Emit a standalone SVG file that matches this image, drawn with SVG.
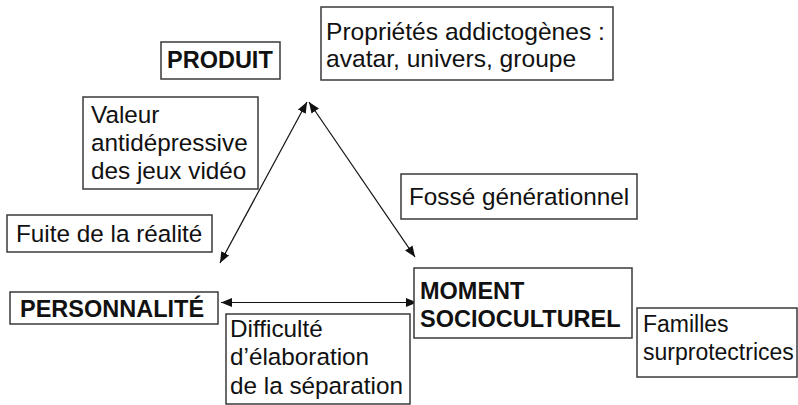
<svg xmlns="http://www.w3.org/2000/svg" width="798" height="405" viewBox="0 0 798 405">
  <style>
    .box { fill: #ffffff; stroke: #3a3a3a; stroke-width: 1.5; }
    .txt { font-family: "Liberation Sans", Arial, Helvetica, sans-serif; font-size: 24.3px; fill: #111; }
    .bold { font-weight: bold; font-size: 23.5px; }
    .link { stroke: #111; stroke-width: 1.2; fill: none; marker-start: url(#head); marker-end: url(#head); }
  </style>
  <defs>
    <marker id="head" viewBox="0 0 11 9" refX="11" refY="4.5" markerWidth="11" markerHeight="9" markerUnits="userSpaceOnUse" orient="auto-start-reverse">
      <path d="M0,0 L11,4.5 L0,9 z" fill="#111"/>
    </marker>
  </defs>
  <rect width="798" height="405" fill="#ffffff"/>

  <!-- connectors -->
  <g id="connectors">
    <line class="link" x1="307" y1="102" x2="220" y2="263"/>
    <line class="link" x1="309" y1="102" x2="415" y2="257"/>
    <line class="link" x1="221" y1="302.5" x2="417" y2="302.5"/>
  </g>

  <!-- main nodes -->
  <g id="produit">
    <rect class="box" x="161" y="42" width="119" height="37"/>
    <text class="txt bold" x="167" y="68">PRODUIT</text>
  </g>
  <g id="personnalite">
    <rect class="box" x="10" y="292" width="208" height="32"/>
    <text class="txt bold" x="20" y="317">PERSONNALITÉ</text>
  </g>
  <g id="moment">
    <rect class="box" x="414" y="268" width="218" height="70"/>
    <text class="txt bold" x="420" y="299">MOMENT</text>
    <text class="txt bold" x="420" y="327">SOCIOCULTUREL</text>
  </g>

  <!-- annotations -->
  <g id="proprietes">
    <rect class="box" x="321" y="7" width="292" height="73"/>
    <text class="txt" x="326" y="40" style="font-size:24.6px">Propriétés addictogènes :</text>
    <text class="txt" x="326" y="67" style="font-size:24.6px">avatar, univers, groupe</text>
  </g>
  <g id="valeur">
    <rect class="box" x="83" y="97" width="175" height="92"/>
    <text class="txt" x="91" y="123">Valeur</text>
    <text class="txt" x="91" y="151">antidépressive</text>
    <text class="txt" x="91" y="179">des jeux vidéo</text>
  </g>
  <g id="fuite">
    <rect class="box" x="7" y="215" width="205" height="37"/>
    <text class="txt" x="16" y="242">Fuite de la réalité</text>
  </g>
  <g id="fosse">
    <rect class="box" x="401" y="174" width="236" height="45"/>
    <text class="txt" x="409" y="205">Fossé générationnel</text>
  </g>
  <g id="difficulte">
    <rect class="box" x="226" y="314" width="184" height="90"/>
    <text class="txt" x="230" y="337">Difficulté</text>
    <text class="txt" x="230" y="365">d’élaboration</text>
    <text class="txt" x="230" y="394">de la séparation</text>
  </g>
  <g id="familles">
    <rect class="box" x="637" y="308" width="160" height="69"/>
    <text class="txt" x="643" y="332" style="font-size:23px">Familles</text>
    <text class="txt" x="643" y="360" style="font-size:23px">surprotectrices</text>
  </g>
</svg>
